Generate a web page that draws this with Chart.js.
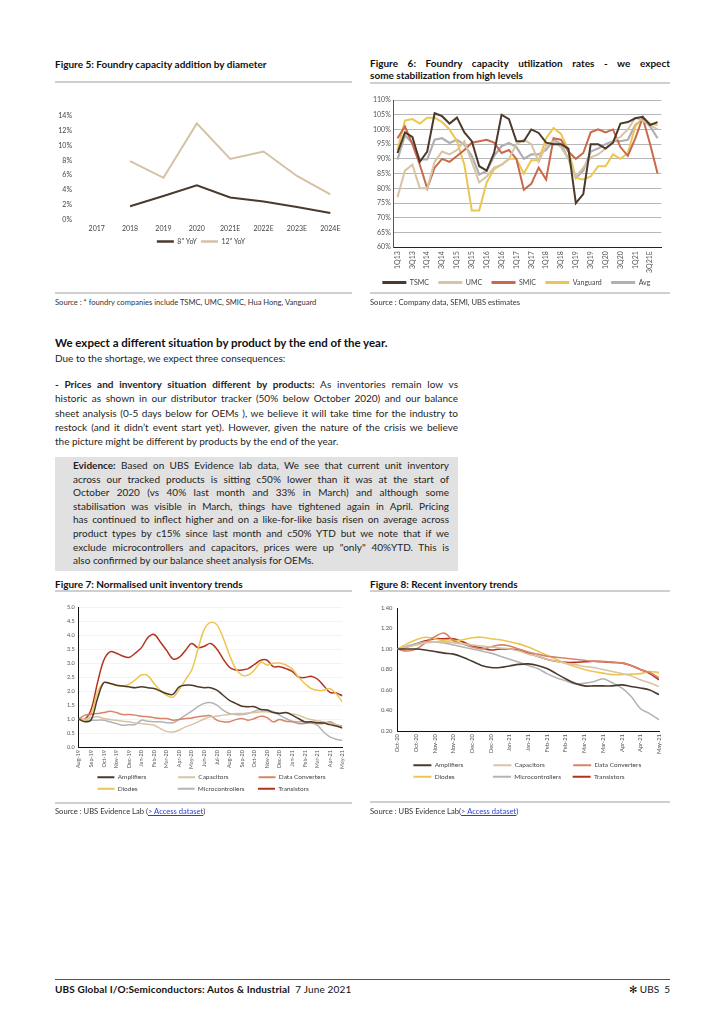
<!DOCTYPE html>
<html>
<head>
<meta charset="utf-8">
<title>UBS Global I/O: Semiconductors - page 5</title>
<script src="https://cdn.jsdelivr.net/npm/chart.js@4.4.1/dist/chart.umd.min.js"></script>
<style>
  html, body { margin: 0; padding: 0; }
  body { width: 724px; height: 1024px; position: relative; background: #fff; font-family: Lato, "Open Sans", sans-serif; color: #1e1e1e; overflow: hidden; }
  .abs { position: absolute; }
  .ftitle { font-weight: 700; font-size: 10px; line-height: 12.4px; color: #111; }
  .rule { position: absolute; height: 1.5px; background: #cfcfcf; }
  .src { font-size: 7.6px; line-height: 10px; color: #333; }
  .src a { color: #2b3fd0; text-decoration: underline; }
  .box { position: absolute; }
  .jl { text-align: justify; text-align-last: justify; }
  .ll { text-align: left; }
  .body { font-size: 10px; line-height: 14.3px; }
  .evid { font-size: 10px; line-height: 13.6px; }
</style>
</head>
<body>

<!-- Figure 5 -->
<div class="abs ftitle" style="left:55px; top:58px;">Figure 5: Foundry capacity addition by diameter</div>
<div class="rule" style="left:55px; top:81px; width:297px;"></div>
<div class="box" style="left:55px; top:86px; width:297px; height:204px;"><canvas id="fig5"></canvas></div>
<div class="rule" style="left:55px; top:292px; width:297px;"></div>
<div class="abs src" style="left:55px; top:297px;">Source : * foundry companies include TSMC, UMC, SMIC, Hua Hong, Vanguard</div>

<!-- Figure 6 -->
<div class="abs ftitle" style="left:370px; top:57px; width:300px;">
  <div class="jl">Figure 6: Foundry capacity utilization rates - we expect</div>
  <div class="ll">some stabilization from high levels</div>
</div>
<div class="rule" style="left:370px; top:82px; width:300px;"></div>
<div class="box" style="left:368px; top:92px; width:302px; height:204px;"><canvas id="fig6"></canvas></div>
<div class="rule" style="left:370px; top:292px; width:300px;"></div>
<div class="abs src" style="left:370px; top:297px;">Source : Company data, SEMI, UBS estimates</div>

<!-- Text -->
<div class="abs" style="left:55px; top:336px; font-weight:700; font-size:11.5px; line-height:14px; color:#111;">We expect a different situation by product by the end of the year.</div>
<div class="abs body" style="left:55px; top:351px;">Due to the shortage, we expect three consequences:</div>

<div class="abs body" style="left:55px; top:377px; width:403px;">
  <div class="jl"><b>- Prices and inventory situation different by products:</b> As inventories remain low vs</div>
  <div class="jl">historic as shown in our distributor tracker (50% below October 2020) and our balance</div>
  <div class="jl">sheet analysis (0-5 days below for OEMs ), we believe it will take time for the industry to</div>
  <div class="jl">restock (and it didn’t event start yet). However, given the nature of the crisis we believe</div>
  <div class="ll">the picture might be different by products by the end of the year.</div>
</div>

<div class="abs" style="left:55px; top:457px; width:403px; height:114px; background:#e1e1e1;"></div>
<div class="abs evid" style="left:73px; top:459px; width:376px;">
  <div class="jl"><b>Evidence:</b> Based on UBS Evidence lab data, We see that current unit inventory</div>
  <div class="jl">across our tracked products is sitting c50% lower than it was at the start of</div>
  <div class="jl">October 2020 (vs 40% last month and 33% in March) and although some</div>
  <div class="jl">stabilisation was visible in March, things have tightened again in April. Pricing</div>
  <div class="jl">has continued to inflect higher and on a like-for-like basis risen on average across</div>
  <div class="jl">product types by c15% since last month and c50% YTD but we note that if we</div>
  <div class="jl">exclude microcontrollers and capacitors, prices were up "only" 40%YTD. This is</div>
  <div class="ll">also confirmed by our balance sheet analysis for OEMs.</div>
</div>

<!-- Figure 7 -->
<div class="abs ftitle" style="left:55px; top:578px;">Figure 7: Normalised unit inventory trends</div>
<div class="rule" style="left:55px; top:590px; width:297px;"></div>
<div class="box" style="left:55px; top:596px; width:297px; height:208px;"><canvas id="fig7"></canvas></div>
<div class="rule" style="left:55px; top:802px; width:297px;"></div>
<div class="abs src" style="left:55px; top:806px;">Source : UBS Evidence Lab (<a>&gt; Access dataset</a>)</div>

<!-- Figure 8 -->
<div class="abs ftitle" style="left:370px; top:578px;">Figure 8: Recent inventory trends</div>
<div class="rule" style="left:370px; top:590px; width:300px;"></div>
<div class="box" style="left:368px; top:596px; width:302px; height:204px;"><canvas id="fig8"></canvas></div>
<div class="rule" style="left:370px; top:801px; width:300px;"></div>
<div class="abs src" style="left:370px; top:806px;">Source : UBS Evidence Lab(<a>&gt; Access dataset</a>)</div>

<!-- Footer -->
<div class="abs" style="left:55px; top:979px; width:615px; height:1px; background:#555;"></div>
<div class="abs" style="left:55px; top:983px; font-size:10px; line-height:13px; color:#111; letter-spacing:0.15px;"><b>UBS Global I/O:Semiconductors: Autos &amp; Industrial</b>&nbsp;&nbsp;7 June 2021</div>
<div class="abs" style="left:590px; top:983px; width:80px; font-size:10px; line-height:13px; color:#111; text-align:right;">✻ UBS&nbsp;&nbsp;5</div>

<script>
// ---- Figure 5 : capacity addition by diameter (% YoY)
const fig5Years = ['2017', '2018', '2019', '2020', '2021E', '2022E', '2023E', '2024E'];
const fig5Inch8 = [null, 1.8, 3.2, 4.65, 3.0, 2.45, 1.7, 0.9];
const fig5Inch12 = [null, 7.9, 5.65, 13.0, 8.2, 9.2, 5.9, 3.4];

// ---- Figure 6 : utilization rates by quarter (%)
const fig6Quarters = ['1Q13', '2Q13', '3Q13', '4Q13', '1Q14', '2Q14', '3Q14', '4Q14',
  '1Q15', '2Q15', '3Q15', '4Q15', '1Q16', '2Q16', '3Q16', '4Q16',
  '1Q17', '2Q17', '3Q17', '4Q17', '1Q18', '2Q18', '3Q18', '4Q18',
  '1Q19', '2Q19', '3Q19', '4Q19', '1Q20', '2Q20', '3Q20', '4Q20',
  '1Q21', '2Q21E', '3Q21E', '4Q21E'];
const fig6Tsmc = [92, 99, 97.5, 89, 92.5, 105.5, 104.5, 102, 104, 99, 96, 87.5, 86, 92, 105, 103.5,
  96, 96, 100, 98.8, 95.5, 95, 95, 93.5, 75, 78, 95, 95, 93.5, 95.5, 102, 102.5, 103.8, 104.3, 101.5, 102.5];
const fig6Umc = [77, 86, 88, 80, 80, 89, 92.5, 91.5, 93, 96, 89, 82, 84, 87, 88, 90,
  95, 96.5, 95, 89, 94.5, 96, 94, 90, 84, 87, 90.5, 91.5, 93.5, 96, 97.5, 100, 104, 103, 101.5, 100];
const fig6Smic = [97, 101, 95, 88, 80, 87, 90, 89, 91, 93, 95.5, 96, 96.5, 95.5, 92, 93,
  90, 79.5, 81.5, 87, 83, 97, 96.5, 92.5, 90, 92, 99, 100, 99, 100, 94, 91, 97, 104, 95, 85];
const fig6Vanguard = [93, 103, 103.5, 102, 104, 104, 102.5, 100, 96, 88, 72.5, 72.5, 82, 86.5, 88, 90,
  90, 85, 89.5, 89.5, 97, 100.5, 98.5, 93, 83.5, 83, 84, 87.5, 87.5, 91.5, 90, 92, 101, 104, 102, 101.5];
const fig6Avg = [89.8, 98, 95.4, 89.8, 89.8, 96.5, 97, 95.4, 96.5, 94.8, 91, 84.7, 85.8, 91, 94.3, 95.4,
  94, 90, 91.5, 91.5, 93, 96.5, 95, 90, 83.5, 86, 92.5, 93.5, 95, 96, 96, 96.5, 101.5, 103.5, 101, 97];

// ---- Figure 7 : normalised unit inventory, two readings per month from Aug-19
const fig7Months = ['Aug-19', 'Sep-19', 'Oct-19', 'Nov-19', 'Dec-19', 'Jan-20', 'Feb-20', 'Mar-20',
  'Apr-20', 'May-20', 'Jun-20', 'Jul-20', 'Aug-20', 'Sep-20', 'Oct-20', 'Nov-20', 'Dec-20',
  'Jan-21', 'Feb-21', 'Mar-21', 'Apr-21', 'May-21'];
const fig7Amplifiers = [1.0, 0.9, 0.98, 1.73, 2.3, 2.27, 2.21, 2.18, 2.15, 2.12, 2.15, 2.12, 2.09, 2.0, 1.91,
  1.88, 2.15, 2.21, 2.21, 2.15, 2.12, 2.12, 2.03, 1.85, 1.67, 1.56, 1.46, 1.44, 1.44, 1.34, 1.32,
  1.23, 1.2, 1.23, 1.14, 1.02, 0.9, 0.9, 0.87, 0.86, 0.8, 0.75, 0.68];
const fig7Capacitors = [1.0, 0.99, 1.05, 1.08, 1.02, 0.98, 0.96, 0.92, 0.9, 0.86, 0.84, 0.81, 0.78, 0.66, 0.56,
  0.54, 0.6, 0.72, 0.8, 0.9, 1.0, 1.08, 1.1, 1.14, 1.16, 1.2, 1.2, 1.22, 1.23, 1.26, 1.26,
  1.23, 1.22, 1.22, 1.18, 1.14, 1.05, 0.98, 0.94, 0.9, 0.85, 0.8, 0.72];
const fig7DataConverters = [1.0, 1.14, 1.17, 1.2, 1.23, 1.28, 1.23, 1.16, 1.16, 1.14, 1.1, 1.08, 1.05, 1.02, 1.02,
  0.96, 0.98, 1.02, 1.04, 1.08, 1.11, 1.12, 0.96, 0.9, 0.9, 0.98, 1.02, 0.96, 1.02, 1.1, 1.05,
  0.9, 0.98, 0.92, 0.9, 0.84, 0.84, 0.87, 0.84, 0.84, 0.9, 0.8, 0.74];
const fig7Diodes = [1.0, 0.95, 1.2, 1.95, 2.3, 2.27, 2.2, 2.18, 2.24, 2.4, 2.57, 2.55, 2.27, 2.03, 1.85,
  1.78, 2.05, 2.4, 2.75, 3.5, 4.2, 4.45, 4.37, 3.9, 3.3, 2.8, 2.57, 2.57, 2.75, 3.03, 2.93,
  2.99, 3.0, 2.93, 2.79, 2.5, 2.27, 2.09, 2.03, 2.03, 2.09, 1.9, 1.61];
const fig7Microcontrollers = [1.0, 0.96, 0.96, 0.96, 0.96, 0.9, 0.84, 0.78, 0.8, 0.8, 0.96, 0.92, 0.9, 0.9, 0.87,
  0.87, 0.99, 1.14, 1.28, 1.44, 1.56, 1.59, 1.5, 1.32, 1.2, 1.16, 1.16, 1.2, 1.28, 1.34, 1.32,
  1.26, 1.14, 1.02, 0.92, 0.9, 0.9, 0.87, 0.78, 0.54, 0.36, 0.28, 0.24];
const fig7Transistors = [1.0, 1.0, 1.35, 2.3, 3.1, 3.4, 3.35, 3.25, 3.2, 3.35, 3.55, 3.9, 4.02, 3.75, 3.45,
  3.15, 3.2, 3.45, 3.7, 3.55, 3.6, 3.7, 3.5, 3.15, 2.85, 2.75, 2.75, 2.8, 2.95, 3.1, 3.1,
  2.87, 2.87, 2.8, 2.7, 2.5, 2.48, 2.53, 2.43, 2.2, 1.95, 1.93, 1.83];

// ---- Figure 8 : recent inventory, weekly from Oct-20 (ticks every two weeks)
const fig8Ticks = ['Oct-20', 'Oct-20', 'Nov-20', 'Nov-20', 'Dec-20', 'Dec-20', 'Jan-21', 'Jan-21',
  'Feb-21', 'Feb-21', 'Mar-21', 'Mar-21', 'Apr-21', 'Apr-21', 'May-21'];
const fig8Amplifiers = [1.00, 1.00, 1.00, 0.99, 0.975, 0.96, 0.95, 0.92, 0.88, 0.84, 0.82, 0.82, 0.835, 0.85, 0.855,
  0.84, 0.81, 0.76, 0.71, 0.665, 0.64, 0.64, 0.64, 0.64, 0.65, 0.635, 0.62, 0.60, 0.555];
const fig8Capacitors = [1.00, 1.02, 1.04, 1.06, 1.07, 1.07, 1.06, 1.05, 1.04, 1.03, 1.02, 1.01, 1.00, 0.98, 0.95,
  0.93, 0.90, 0.88, 0.86, 0.85, 0.83, 0.82, 0.80, 0.78, 0.76, 0.74, 0.70, 0.67, 0.635];
const fig8DataConverters = [1.00, 0.98, 1.00, 1.06, 1.12, 1.155, 1.08, 1.05, 1.02, 1.00, 1.02, 1.04, 1.03, 1.00, 0.97,
  0.95, 0.93, 0.92, 0.91, 0.90, 0.89, 0.88, 0.88, 0.87, 0.865, 0.84, 0.80, 0.77, 0.72];
const fig8Diodes = [1.00, 1.05, 1.09, 1.115, 1.10, 1.08, 1.08, 1.09, 1.11, 1.115, 1.10, 1.09, 1.07, 1.05, 1.02,
  0.98, 0.94, 0.90, 0.86, 0.83, 0.80, 0.78, 0.765, 0.75, 0.75, 0.755, 0.76, 0.78, 0.77];
const fig8Microcontrollers = [1.00, 1.03, 1.05, 1.07, 1.07, 1.06, 1.04, 1.02, 1.00, 0.98, 0.96, 0.93, 0.90, 0.87, 0.84,
  0.81, 0.76, 0.72, 0.69, 0.66, 0.665, 0.68, 0.71, 0.67, 0.62, 0.54, 0.42, 0.37, 0.31];
const fig8Transistors = [1.00, 1.02, 1.05, 1.08, 1.10, 1.10, 1.10, 1.07, 1.03, 1.01, 0.99, 1.00, 1.00, 0.99, 0.96,
  0.93, 0.90, 0.88, 0.87, 0.87, 0.875, 0.88, 0.875, 0.87, 0.865, 0.84, 0.80, 0.76, 0.70];

// colours
const cDark = '#4b3a2c', cTan = '#d8c4a3', cSmic = '#c9694b', cYellow = '#ecc651',
  cGrey = '#b4b4b8', cConv = '#d98468', cTrans = '#b2321f';

Chart.defaults.font.family = 'Lato, "Open Sans", sans-serif';
Chart.defaults.color = '#555';
Chart.defaults.animation = false;
Chart.defaults.responsive = true;
Chart.defaults.maintainAspectRatio = false;
Chart.defaults.elements.point.radius = 0;
Chart.defaults.plugins.tooltip.enabled = false;

// legend items drawn as short lines.
// colWidth pads the text so items line up in columns, extra adds a little room after each text,
// perRow adds an empty item in front of each row so the rows sit a little to the right, as in the original
function lineLegend(fontSize, colWidth, perRow, extra) {
  return function (chart) {
    const items = Chart.defaults.plugins.legend.labels.generateLabels(chart);
    const ctx = chart.ctx;
    ctx.save();
    ctx.font = fontSize + 'px ' + Chart.defaults.font.family;
    items.forEach(it => {
      it.fillStyle = it.strokeStyle;
      it.lineWidth = 0;
      const target = Math.max(colWidth || 0, ctx.measureText(it.text).width + (extra || 0));
      while (ctx.measureText(it.text).width < target) it.text += ' ';
    });
    ctx.restore();
    if (!perRow) return items;
    const out = [];
    items.forEach((it, i) => {
      if (i % perRow === 0) {
        out.push({ text: '', fillStyle: 'rgba(0,0,0,0)', strokeStyle: 'rgba(0,0,0,0)', lineWidth: 0, hidden: false });
      }
      out.push(it);
    });
    return out;
  };
}

function line(label, data, color, width, tension) {
  return { label: label, data: data, borderColor: color, backgroundColor: color,
    borderWidth: width, tension: tension || 0, fill: false, spanGaps: false };
}

// pairs index-based x positions with values (x step given in category units)
function xy(values, step) {
  return values.map((v, i) => ({ x: i * step, y: v }));
}

// Figure 5
new Chart(document.getElementById('fig5'), {
  type: 'line',
  data: {
    labels: fig5Years,
    datasets: [
      line('8" YoY', fig5Inch8, cDark, 2),
      line('12" YoY', fig5Inch12, '#d5c2a2', 2)
    ]
  },
  options: {
    layout: { padding: { left: 0, right: 5, top: 30, bottom: 35 } },
    scales: {
      x: { offset: true, grid: { display: false, drawTicks: false }, border: { display: false },
        ticks: { font: { size: 7 }, color: '#444', padding: 5 },
        afterFit: s => { s.height -= 4; } },
      y: { min: 0, max: 14, grid: { display: false, drawTicks: false }, border: { display: false },
        ticks: { stepSize: 2, font: { size: 7 }, color: '#444', padding: 8, callback: v => v + '%' },
        afterFit: s => { s.width = 25; } }
    },
    plugins: {
      legend: { position: 'bottom',
        labels: { boxWidth: 17, boxHeight: 2.5, padding: 4, font: { size: 7 }, color: '#444',
          generateLabels: lineLegend(7) } }
    }
  }
});

// Figure 6
new Chart(document.getElementById('fig6'), {
  type: 'line',
  data: {
    labels: fig6Quarters,
    datasets: [
      line('TSMC', fig6Tsmc, cDark, 2),
      line('UMC', fig6Umc, cTan, 2),
      line('SMIC', fig6Smic, cSmic, 2),
      line('Vanguard', fig6Vanguard, cYellow, 2),
      line('Avg', fig6Avg, '#b0b0b4', 2.2)
    ]
  },
  options: {
    layout: { padding: { left: 2, right: 2, top: 8, bottom: 0 } },
    scales: {
      x: { offset: true, grid: { display: false, drawTicks: false }, border: { color: '#222', width: 1 },
        ticks: { autoSkip: false, maxRotation: 90, minRotation: 90, font: { size: 7 }, color: '#555', padding: 4,
          callback: (v, i) => (i % 2 === 0 ? fig6Quarters[i] : '') },
        afterFit: s => { s.height -= 2; } },
      y: { min: 60, max: 110, border: { color: '#555', width: 1 },
        grid: { color: '#a4a4a4', lineWidth: 0.8, drawTicks: false },
        ticks: { stepSize: 5, font: { size: 7 }, color: '#555', padding: 3, callback: v => v + '%' } }
    },
    plugins: {
      legend: { position: 'bottom',
        labels: { boxWidth: 24, boxHeight: 3, padding: 4, font: { size: 7 }, color: '#444',
          generateLabels: lineLegend(7, 0, 0, 5) } }
    }
  }
});

// Figure 7
new Chart(document.getElementById('fig7'), {
  type: 'line',
  data: {
    datasets: [
      line('Amplifiers', xy(fig7Amplifiers, 0.5), cDark, 1.5, 0.35),
      line('Capacitors', xy(fig7Capacitors, 0.5), cTan, 1.5, 0.35),
      line('Data Converters', xy(fig7DataConverters, 0.5), cConv, 1.5, 0.35),
      line('Diodes', xy(fig7Diodes, 0.5), cYellow, 1.5, 0.35),
      line('Microcontrollers', xy(fig7Microcontrollers, 0.5), cGrey, 1.5, 0.35),
      line('Transistors', xy(fig7Transistors, 0.5), cTrans, 1.5, 0.35)
    ]
  },
  options: {
    layout: { padding: { left: 8, right: 9, top: 11, bottom: 2 } },
    scales: {
      x: { type: 'linear', min: 0, max: fig7Months.length - 1, grid: { display: false, drawTicks: false },
        border: { color: '#111', width: 1 },
        ticks: { stepSize: 1, autoSkip: false, maxRotation: 90, minRotation: 90, font: { size: 5.5 }, color: '#555',
          padding: 3, callback: v => fig7Months[v] },
        afterFit: s => { s.height -= 3; } },
      y: { min: 0, max: 5, border: { color: '#111', width: 1 },
        grid: { color: '#eeeeee', lineWidth: 0.7, drawTicks: false },
        ticks: { stepSize: 0.5, font: { size: 5.5 }, color: '#555', padding: 4, callback: v => v.toFixed(1) } }
    },
    plugins: {
      legend: { position: 'bottom',
        labels: { boxWidth: 17, boxHeight: 2, padding: 5, font: { size: 6.5 }, color: '#444',
          generateLabels: lineLegend(6.5, 54, 3) } }
    }
  }
});

// Figure 8
new Chart(document.getElementById('fig8'), {
  type: 'line',
  data: {
    datasets: [
      line('Amplifiers', xy(fig8Amplifiers, 1), cDark, 1.6, 0.35),
      line('Capacitors', xy(fig8Capacitors, 1), cTan, 1.6, 0.35),
      line('Data Converters', xy(fig8DataConverters, 1), cConv, 1.6, 0.35),
      line('Diodes', xy(fig8Diodes, 1), cYellow, 1.6, 0.35),
      line('Microcontrollers', xy(fig8Microcontrollers, 1), cGrey, 1.6, 0.35),
      line('Transistors', xy(fig8Transistors, 1), cTrans, 1.6, 0.35)
    ]
  },
  options: {
    layout: { padding: { left: 8, right: 11, top: 12, bottom: 10 } },
    scales: {
      x: { type: 'linear', min: 0, max: (fig8Ticks.length - 1) * 2, grid: { display: false, drawTicks: false },
        border: { color: '#111', width: 1 },
        ticks: { stepSize: 2, autoSkip: false, maxRotation: 90, minRotation: 90, font: { size: 5.8 }, color: '#555',
          padding: 3, callback: v => fig8Ticks[v / 2] } },
      y: { min: 0.2, max: 1.4, border: { color: '#111', width: 1 }, grid: { display: false, drawTicks: false },
        ticks: { stepSize: 0.2, font: { size: 5.8 }, color: '#555', padding: 5, callback: v => v.toFixed(2) } }
    },
    plugins: {
      legend: { position: 'bottom',
        labels: { boxWidth: 18, boxHeight: 2, padding: 5, font: { size: 6.5 }, color: '#444',
          generateLabels: lineLegend(6.5, 52.75, 3) } }
    }
  }
});

// keep every justified line on one row: tighten spacing a little where a line would wrap
document.querySelectorAll('.jl').forEach(el => {
  const lh = parseFloat(getComputedStyle(el).lineHeight);
  let ls = 0;
  while (el.offsetHeight > lh * 1.5 && ls > -1.2) {
    ls -= 0.05;
    el.style.letterSpacing = ls + 'px';
  }
});
</script>
</body>
</html>
